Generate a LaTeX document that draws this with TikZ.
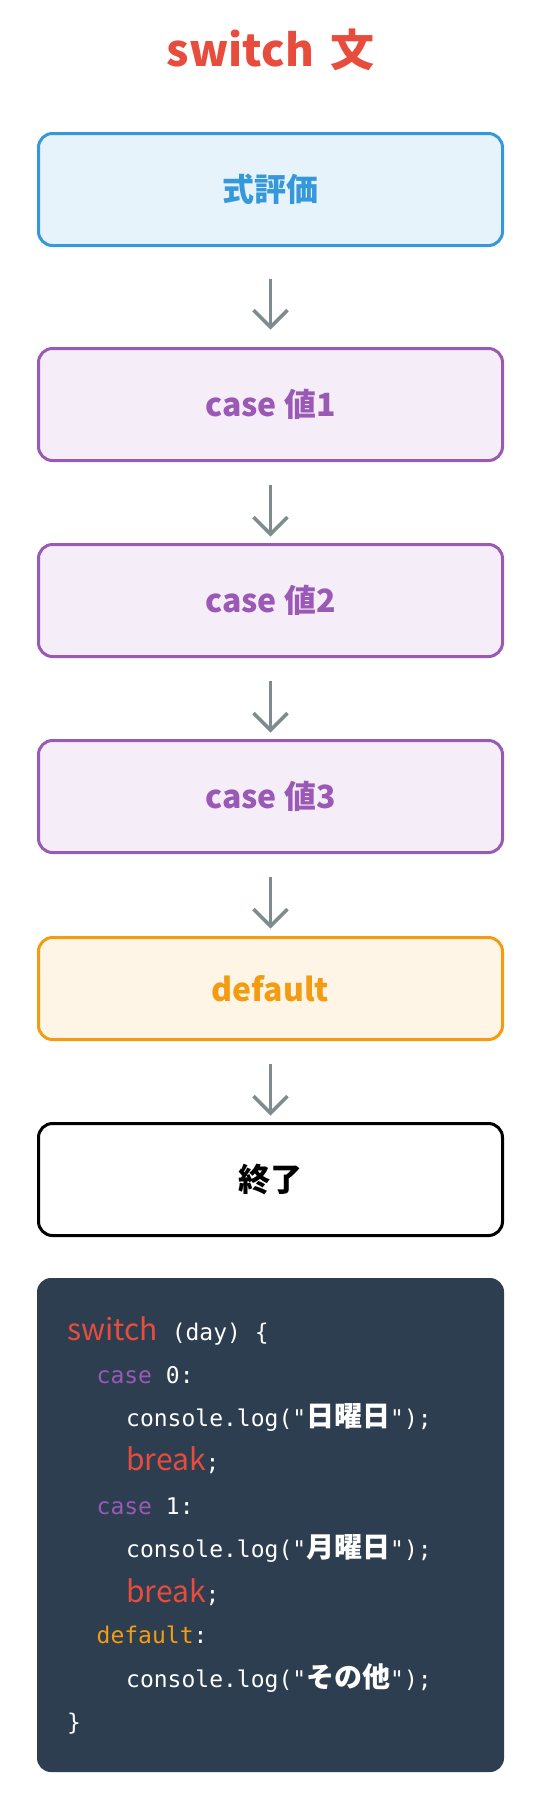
\documentclass[tikz,border=0pt]{standalone}
\usepackage{fontspec}
\setmainfont{Noto Sans CJK JP}
\setmonofont{DejaVu Sans Mono}
\newfontfamily\cjk{Noto Sans CJK JP}
\usetikzlibrary{arrows.meta}

\definecolor{swred}{HTML}{E74C3C}
\definecolor{swblue}{HTML}{3498DB}
\definecolor{swpurple}{HTML}{9B59B6}
\definecolor{sworange}{HTML}{F39C12}
\definecolor{swgrey}{HTML}{7F8C8D}
\definecolor{codebg}{HTML}{2C3E50}

\tikzset{
  flowbox/.style={draw, line width=3pt, rounded corners=14pt, minimum width=464pt, minimum height=112pt, font=\fontsize{32}{38}\selectfont\bfseries},
  evalbox/.style={flowbox, draw=swblue, fill=swblue!12, text=swblue},
  casebox/.style={flowbox, draw=swpurple, fill=swpurple!10, text=swpurple},
  defbox/.style={flowbox, draw=sworange, fill=sworange!10, text=sworange, minimum height=102pt},
  endbox/.style={flowbox, draw=black, fill=white, text=black},
  flowarrow/.style={draw=swgrey, line width=3.5pt, -{Straight Barb[length=17pt,width=34pt]}},
  codeline/.style={anchor=base west, text=white, inner sep=0pt, font=\ttfamily\fontsize{23}{27}\selectfont},
}
\newcommand{\kwred}[1]{{\color{swred}\rmfamily\fontsize{30}{32}\selectfont #1}}
\newcommand{\kwcase}[1]{\textcolor{swpurple}{#1}}
\newcommand{\kwdef}[1]{\textcolor{sworange}{#1}}
\newcommand{\jp}[1]{{\cjk\bfseries\fontsize{28}{30}\selectfont #1}}

\begin{document}
\begin{tikzpicture}[x=1pt,y=-1pt]
\useasboundingbox[fill=white] (0,0) rectangle (533,1808);
\node[anchor=base, text=swred, font=\fontsize{44}{50}\selectfont\bfseries] (title) at (270.5,66) {switch\hspace{6pt} 文};
\node[evalbox] (eval) at (270.5,189.5) {式評価};
\node[casebox] (case1) at (270.5,404.5) {case 値1};
\node[casebox] (case2) at (270.5,600.5) {case 値2};
\node[casebox] (case3) at (270.5,796.5) {case 値3};
\node[defbox] (default) at (270.5,988.5) {default};
\node[endbox] (end) at (270.5,1179.5) {終了};
\draw[flowarrow, shorten <=31.5pt, shorten >=17.5pt] (eval.south) -- (case1.north);
\draw[flowarrow, shorten <=22.5pt, shorten >=6.5pt] (case1.south) -- (case2.north);
\draw[flowarrow, shorten <=22.5pt, shorten >=6.5pt] (case2.south) -- (case3.north);
\draw[flowarrow, shorten <=22.5pt, shorten >=7.5pt] (case3.south) -- (default.north);
\draw[flowarrow, shorten <=22.5pt, shorten >=6.5pt] (default.south) -- (end.north);
% code sample
\fill[codebg, rounded corners=14pt] (37,1278) rectangle (504,1772);
\node[codeline] (c1) at (67,1340) {\kwred{switch} (day) \{};
\node[codeline] (c2) at (96.5,1383) {\kwcase{case} 0:};
\node[codeline] (c3) at (126,1426) {console.log("\jp{日曜日}");};
\node[codeline] (c4) at (126,1470) {\kwred{break};};
\node[codeline] (c5) at (96.5,1514) {\kwcase{case} 1:};
\node[codeline] (c6) at (126,1557) {console.log("\jp{月曜日}");};
\node[codeline] (c7) at (126,1602) {\kwred{break};};
\node[codeline] (c8) at (96.5,1643) {\kwdef{default}:};
\node[codeline] (c9) at (126,1687) {console.log("\jp{その他}");};
\node[codeline] (c10) at (67,1730) {\}};
\end{tikzpicture}
\end{document}
